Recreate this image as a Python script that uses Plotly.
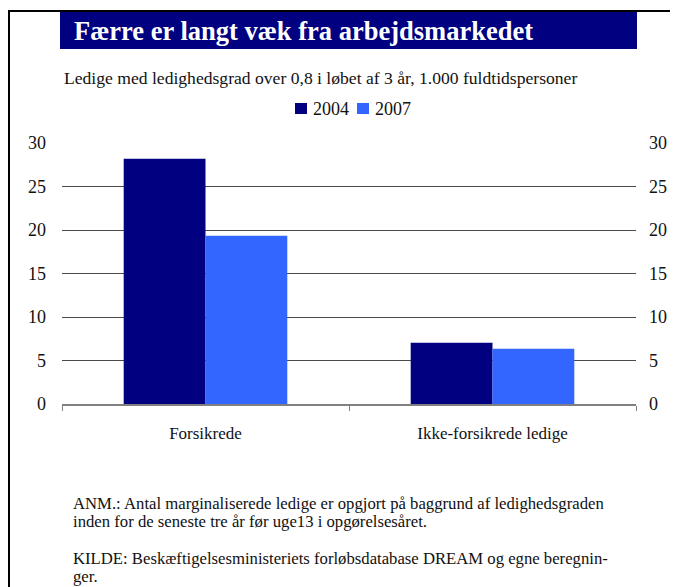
import plotly.graph_objects as go

kategorier = ["Forsikrede", "Ikke-forsikrede ledige"]
aar = ["2004", "2007"]
vaerdier_2004 = [28.2, 7.05]
vaerdier_2007 = [19.35, 6.35]
farver = ["#000080", "#3366ff"]
y_ticks = [0, 5, 10, 15, 20, 25, 30]

titel = "Færre er langt væk fra arbejdsmarkedet"
undertitel = "Ledige med ledighedsgrad over 0,8 i løbet af 3 år, 1.000 fuldtidspersoner"
fodnote = [
    "ANM.: Antal marginaliserede ledige er opgjort på baggrund af ledighedsgraden",
    "inden for de seneste tre år før uge13 i opgørelsesåret.",
    "KILDE: Beskæftigelsesministeriets forløbsdatabase DREAM og egne beregnin-",
    "ger.",
]

serif = "Liberation Serif, Times New Roman, serif"

fig = go.Figure()
for navn, vals, farve in zip(aar, [vaerdier_2004, vaerdier_2007], farver):
    fig.add_trace(go.Bar(x=kategorier, y=vals, name=navn, marker_color=farve,
                         marker_line_width=0, showlegend=False))

# usynlig trace saa hoejre akse vises
fig.add_trace(go.Scatter(x=kategorier, y=[0, 0], yaxis="y2", showlegend=False,
                         mode="markers", marker_opacity=0, hoverinfo="skip"))

# siden har 8px body-margin, saa figuren starter ved (8, 8) i vinduet
W, H = 670, 579
L, R, T, B = 54, 42, 135, 183
ph = H - T - B
pw = W - L - R


def py(y):
    # vinduespixel y -> paper y
    return (404 - y) / ph


def pxx(x):
    return (x - 62) / pw


shapes = [
    dict(type="rect", xref="paper", yref="paper", x0=pxx(60), x1=pxx(637),
         y0=py(49), y1=py(12), fillcolor="#000080", line_width=0, layer="below"),
    dict(type="line", xref="paper", yref="paper", x0=pxx(9), x1=pxx(9),
         y0=py(10), y1=py(600), line=dict(color="black", width=2)),
    dict(type="line", xref="paper", yref="paper", x0=pxx(8), x1=pxx(700),
         y0=py(11), y1=py(11), line=dict(color="black", width=2)),
]

annotations = [
    dict(text="<b>" + titel + "</b>", xref="paper", yref="paper", x=pxx(72), y=py(31),
         xanchor="left", yanchor="middle", showarrow=False,
         font=dict(size=26.5, color="white", family=serif)),
    dict(text=undertitel, xref="paper", yref="paper", x=pxx(62), y=py(78),
         xanchor="left", yanchor="middle", showarrow=False, font=dict(size=17.6)),
]

# forklaring tegnet med smaa firkanter
legend_x = [295, 357]
for navn, farve, lx in zip(aar, farver, legend_x):
    shapes.append(dict(type="rect", xref="paper", yref="paper", x0=pxx(lx), x1=pxx(lx + 12),
                       y0=py(114), y1=py(103), fillcolor=farve, line_width=0))
    annotations.append(dict(text=navn, xref="paper", yref="paper", x=pxx(lx + 16), y=py(108.5),
                            xanchor="left", yanchor="middle", showarrow=False,
                            font=dict(size=18)))

fod_y = [503, 521, 558, 576]
for tekst, fy in zip(fodnote, fod_y):
    annotations.append(dict(text=tekst, xref="paper", yref="paper", x=pxx(71), y=py(fy),
                            xanchor="left", yanchor="middle", showarrow=False,
                            font=dict(size=16.7)))

fig.update_layout(
    width=W, height=H,
    margin=dict(l=L, r=R, t=T, b=B),
    plot_bgcolor="white", paper_bgcolor="white",
    font=dict(family=serif, size=17, color="#111111"),
    barmode="group",
    bargap=0.43,
    bargroupgap=0,
    xaxis=dict(showline=True, linecolor="#808080", linewidth=1.5,
               ticks="outside", tickson="boundaries", ticklen=5, tickcolor="#808080",
               ticklabelstandoff=13, showgrid=False, tickfont=dict(size=17)),
    yaxis=dict(range=[0, 30], tickvals=y_ticks, showgrid=True, gridcolor="#4a4a4a",
               gridwidth=1, zeroline=False, showline=False, ticks="",
               ticklabelstandoff=15, tickfont=dict(size=18)),
    yaxis2=dict(range=[0, 30], tickvals=y_ticks, overlaying="y", side="right",
                showgrid=False, zeroline=False, showline=False, ticks="",
                ticklabelstandoff=12, tickfont=dict(size=18)),
    shapes=shapes,
    annotations=annotations,
)

fig.write_html("out.html")
